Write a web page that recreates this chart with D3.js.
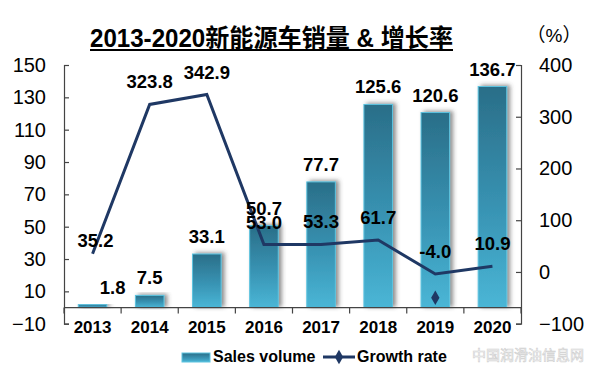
<!DOCTYPE html>
<html>
<head>
<meta charset="utf-8">
<script src="https://cdn.jsdelivr.net/npm/d3@7"></script>
<style>
body { margin: 0; background: #fff; }
svg { display: block; font-family: "Liberation Sans", Arial, "Noto Sans CJK SC", sans-serif; }
</style>
</head>
<body>
<div id="chart"></div>
<script>
// data
const years = ["2013", "2014", "2015", "2016", "2017", "2018", "2019", "2020"];
const salesVolume = [1.8, 7.5, 33.1, 50.7, 77.7, 125.6, 120.6, 136.7];
const growthRate = [35.2, 323.8, 342.9, 53.0, 53.3, 61.7, -4.0, 10.9];
const leftTicks = [150, 130, 110, 90, 70, 50, 30, 10, -10];
const rightTicks = [400, 300, 200, 100, 0, -100];
const strayMarker = [{year: "2019", value: -50}];
const legendItems = ["Sales volume", "Growth rate"];

const w = 600, h = 377;
const navy = "#1f3864";

let svg = d3.select("#chart").append("svg")
	.attr("width", w)
	.attr("height", h);

let defs = svg.append("defs");
let grad = defs.append("linearGradient").attr("id", "barGrad")
	.attr("x1", 0).attr("y1", 0).attr("x2", 0).attr("y2", 1);
grad.append("stop").attr("offset", "0%").attr("stop-color", "#2a6e88");
grad.append("stop").attr("offset", "55%").attr("stop-color", "#3893b3");
grad.append("stop").attr("offset", "100%").attr("stop-color", "#4ab6d6");

let shadow = defs.append("filter").attr("id", "shadow")
	.attr("x", "-40%").attr("y", "-20%").attr("width", "180%").attr("height", "140%");
shadow.append("feDropShadow")
	.attr("dx", 3).attr("dy", -1).attr("stdDeviation", 2)
	.attr("flood-color", "#444").attr("flood-opacity", 0.6);

// scales
let x = d3.scaleBand().domain(years).range([64, 521]).paddingInner(0.5).paddingOuter(0.25);
let yL = d3.scaleLinear().domain([-10, 150]).range([323.7, 65]);
let yR = d3.scaleLinear().domain([-100, 400]).range([323.7, 65]);
let cx = (d) => x(d) + x.bandwidth() / 2;

// title
svg.append("text")
	.attr("x", 271.5).attr("y", 47)
	.attr("text-anchor", "middle")
	.attr("font-size", 25).attr("font-weight", "bold")
	.attr("textLength", 363).attr("lengthAdjust", "spacingAndGlyphs")
	.text("2013-2020新能源车销量 & 增长率");
svg.append("line")
	.attr("x1", 90).attr("x2", 453).attr("y1", 50).attr("y2", 50)
	.attr("stroke", "#000").attr("stroke-width", 2);
svg.append("text")
	.attr("x", 554).attr("y", 42)
	.attr("text-anchor", "middle")
	.attr("font-size", 19)
	.text("（%）");

// bars
svg.append("g").selectAll("rect")
	.data(salesVolume)
	.enter()
	.append("rect")
	.attr("x", (d, i) => x(years[i]))
	.attr("y", (d) => yL(d))
	.attr("width", x.bandwidth())
	.attr("height", (d) => yL(0) - yL(d))
	.attr("fill", "url(#barGrad)")
	.attr("stroke", "#5cc3df")
	.attr("stroke-width", 1)
	.attr("filter", "url(#shadow)");

// axes
let leftAxis = svg.append("g")
	.attr("transform", "translate(64,0)")
	.call(d3.axisLeft(yL).tickValues(leftTicks).tickSize(-5).tickPadding(18));
let rightAxis = svg.append("g")
	.attr("transform", "translate(521,0)")
	.call(d3.axisRight(yR).tickValues(rightTicks).tickSize(-5).tickPadding(18));
[leftAxis, rightAxis].forEach((a) => {
	a.selectAll("path, line").attr("stroke", "#444").attr("stroke-width", 1.2);
	a.selectAll("text")
		.attr("font-size", 20)
		.attr("fill", "#000")
		.attr("font-family", "Liberation Sans, Arial, sans-serif")
		.text((d) => d < 0 ? "\u2212" + Math.abs(d) : d);
});

// category axis along zero
let zeroY = yL(0);
svg.append("line")
	.attr("x1", 64).attr("x2", 521).attr("y1", zeroY).attr("y2", zeroY)
	.attr("stroke", "#444").attr("stroke-width", 1.2);
let bounds = years.map((d) => x(d) - x.step() * x.paddingInner() / 2).concat([521]);
svg.append("g").selectAll("line")
	.data(bounds)
	.enter()
	.append("line")
	.attr("x1", (d) => d).attr("x2", (d) => d)
	.attr("y1", zeroY).attr("y2", zeroY + 6)
	.attr("stroke", "#444").attr("stroke-width", 1.2);
svg.append("g").selectAll("text")
	.data(years)
	.enter()
	.append("text")
	.attr("x", (d) => cx(d))
	.attr("y", 333)
	.attr("text-anchor", "middle")
	.attr("font-size", 17).attr("font-weight", "bold")
	.text((d) => d);

// growth line
let line = d3.line()
	.x((d, i) => cx(years[i]))
	.y((d) => yR(d));
svg.append("path")
	.datum(growthRate)
	.attr("d", line)
	.attr("fill", "none")
	.attr("stroke", navy)
	.attr("stroke-width", 3)
	.attr("stroke-linejoin", "miter");

let diamond = d3.symbol().type(d3.symbolDiamond).size(60);
svg.append("g").selectAll("path")
	.data(strayMarker)
	.enter()
	.append("path")
	.attr("d", diamond)
	.attr("transform", (d) => "translate(" + cx(d.year) + "," + yR(d.value) + ")")
	.attr("fill", navy);

// bar value labels
svg.append("g").selectAll("text")
	.data(salesVolume)
	.enter()
	.append("text")
	.attr("x", (d, i) => cx(years[i]) + (i === 0 ? 20 : 0))
	.attr("y", (d) => yL(d) - 11)
	.attr("text-anchor", "middle")
	.attr("font-size", 18.5).attr("font-weight", "bold")
	.text((d) => d.toFixed(1));

// growth labels
svg.append("g").selectAll("text")
	.data(growthRate)
	.enter()
	.append("text")
	.attr("x", (d, i) => cx(years[i]) + (i === 0 ? 3 : 0))
	.attr("y", (d, i) => yR(d) - (i === 0 ? 7 : 16))
	.attr("text-anchor", "middle")
	.attr("font-size", 18.5).attr("font-weight", "bold")
	.text((d) => d.toFixed(1));

// legend
let legend = svg.append("g");
legend.append("rect")
	.attr("x", 182).attr("y", 353).attr("width", 28).attr("height", 9)
	.attr("fill", "url(#barGrad)").attr("stroke", "#5cc3df");
legend.append("text")
	.attr("x", 213).attr("y", 362)
	.attr("font-size", 16).attr("font-weight", "bold")
	.text(legendItems[0]);
legend.append("line")
	.attr("x1", 323).attr("x2", 355).attr("y1", 357).attr("y2", 357)
	.attr("stroke", navy).attr("stroke-width", 3);
legend.append("path")
	.attr("d", diamond)
	.attr("transform", "translate(339,357)")
	.attr("fill", navy);
legend.append("text")
	.attr("x", 357).attr("y", 362)
	.attr("font-size", 16).attr("font-weight", "bold")
	.text(legendItems[1]);

// watermark
svg.append("text")
	.attr("x", 528).attr("y", 360)
	.attr("text-anchor", "middle")
	.attr("font-size", 14)
	.attr("font-family", "Noto Sans CJK SC, sans-serif")
	.attr("fill", "#fff")
	.attr("stroke", "#cfcfcf").attr("stroke-width", 0.6)
	.text("中国润滑油信息网");
</script>
</body>
</html>
